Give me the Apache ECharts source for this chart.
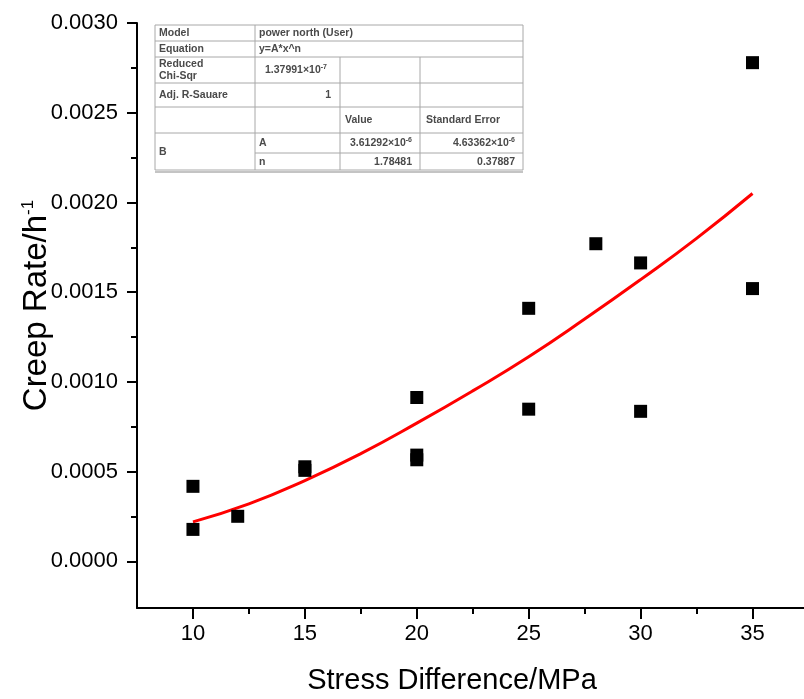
<!DOCTYPE html>
<html>
<head>
<meta charset="utf-8">
<script src="https://cdn.jsdelivr.net/npm/echarts@6/dist/echarts.min.js"></script>
<style>
  html, body { margin: 0; padding: 0; background: #fff; }
  #chart { width: 804px; height: 699px; }
</style>
</head>
<body>
<div id="chart"></div>
<script>
// measured points (stress difference in MPa, creep rate in 1/h)
const stress = [10, 10, 12, 15, 15, 20, 20, 20, 25, 25, 28, 30, 30, 35, 35];
const creepRate = [0.000418, 0.000178, 0.000251, 0.000527, 0.000507, 0.000913, 0.000592, 0.000566,
    0.00141, 0.000848, 0.00177, 0.001663, 0.000836, 0.002779, 0.00152];

// red fitted curve
const fitX = [10, 12.5, 15, 17.5, 20, 22.5, 25, 27.5, 30, 32.5, 35];
const fitY = [0.00022, 0.00032, 0.00045, 0.0006, 0.00077, 0.00095, 0.00114, 0.00135, 0.00157, 0.0018, 0.00205];

const xTicks = [10, 15, 20, 25, 30, 35];
const xMinorTicks = [12.5, 17.5, 22.5, 27.5, 32.5];
const yTicks = [0, 0.0005, 0.001, 0.0015, 0.002, 0.0025, 0.003];
const yMinorTicks = [0.00025, 0.00075, 0.00125, 0.00175, 0.00225, 0.00275];

const font = 'Arial, "Liberation Sans", sans-serif';
const tableColor = '#4a4a4a';
const lineColor = '#a8a8a8';

// fit-report table, columns and rows edges
const colX = [155, 255, 340, 420, 523];
const rowY = [25, 41, 57, 83, 107, 133, 153, 170];

function hLine(y, x1, x2) {
    return { type: 'line', shape: { x1: x1, y1: y, x2: x2, y2: y }, style: { stroke: lineColor, lineWidth: 1 } };
}
function vLine(x, y1, y2) {
    return { type: 'line', shape: { x1: x, y1: y1, x2: x, y2: y2 }, style: { stroke: lineColor, lineWidth: 1 } };
}
function cellText(text, x, y, align) {
    return {
        type: 'text',
        x: x,
        y: y,
        style: {
            text: text,
            fill: tableColor,
            font: 'bold 10.5px ' + font,
            align: align || 'left',
            verticalAlign: 'middle',
            rich: {
                s: { fontSize: 7, fontWeight: 'bold', fill: tableColor, verticalAlign: 'top', padding: [0, 0, 5, 0] }
            }
        }
    };
}

const tableElements = [
    { type: 'rect', shape: { x: colX[0], y: rowY[0], width: colX[4] - colX[0], height: rowY[7] - rowY[0] },
      style: { fill: '#fff', stroke: lineColor, lineWidth: 1 } },
    { type: 'line', shape: { x1: colX[0], y1: rowY[7] + 2, x2: colX[4], y2: rowY[7] + 2 },
      style: { stroke: '#c4c4c4', lineWidth: 2 } },
    hLine(rowY[1], colX[0], colX[4]),
    hLine(rowY[2], colX[0], colX[4]),
    hLine(rowY[3], colX[0], colX[4]),
    hLine(rowY[4], colX[0], colX[4]),
    hLine(rowY[5], colX[0], colX[4]),
    hLine(rowY[6], colX[1], colX[4]),
    vLine(colX[1], rowY[0], rowY[7]),
    vLine(colX[2], rowY[2], rowY[7]),
    vLine(colX[3], rowY[2], rowY[7]),
    cellText('Model', 159, 33),
    cellText('power north (User)', 259, 33),
    cellText('Equation', 159, 49),
    cellText('y=A*x^n', 259, 49),
    cellText('Reduced', 159, 64),
    cellText('Chi-Sqr', 159, 76),
    cellText('1.37991×10{s|-7}', 265, 70),
    cellText('Adj. R-Sauare', 159, 95),
    cellText('1', 331, 95, 'right'),
    cellText('Value', 345, 120),
    cellText('Standard Error', 426, 120),
    cellText('B', 159, 152),
    cellText('A', 259, 143),
    cellText('3.61292×10{s|-6}', 412, 143, 'right'),
    cellText('4.63362×10{s|-6}', 515, 143, 'right'),
    cellText('n', 259, 162),
    cellText('1.78481', 412, 162, 'right'),
    cellText('0.37887', 515, 162, 'right')
];

const axisLineStyle = { color: '#000', width: 2 };

const option = {
    animation: false,
    backgroundColor: '#fff',
    grid: { left: 137, top: 23, right: 0, bottom: 91, containLabel: false, outerBoundsMode: 'none' },
    xAxis: [
        {
            type: 'value',
            min: 7.5,
            max: 37.3,
            name: 'Stress Difference/MPa',
            nameLocation: 'middle',
            nameGap: 58,
            nameTextStyle: { color: '#000', fontSize: 29, fontFamily: font, padding: [0, 37, 0, 0] },
            axisLine: { onZero: false, lineStyle: axisLineStyle },
            axisTick: { inside: false, length: 11, lineStyle: { color: '#000', width: 2 }, customValues: xTicks },
            axisLabel: { color: '#000', fontSize: 22, fontFamily: font, margin: 15, customValues: xTicks },
            splitLine: { show: false }
        },
        {
            type: 'value',
            min: 7.5,
            max: 37.3,
            position: 'bottom',
            axisLine: { show: false, onZero: false },
            axisTick: { length: 6, lineStyle: { color: '#000', width: 2 }, customValues: xMinorTicks },
            axisLabel: { show: false },
            splitLine: { show: false }
        }
    ],
    yAxis: [
        {
            type: 'value',
            min: -0.00026,
            max: 0.003,
            name: '{a|Creep Rate/h}{s|-1}',
            nameLocation: 'middle',
            nameGap: 84,
            nameMoveOverlap: false,
            nameTextStyle: {
                color: '#000',
                fontFamily: font,
                padding: [0, 0, 0, 20],
                rich: {
                    a: { fontSize: 33, fontFamily: font, color: '#000' },
                    s: { fontSize: 17, fontFamily: font, color: '#000', verticalAlign: 'top', padding: [0, 0, 13, 0] }
                }
            },
            axisLine: { onZero: false, lineStyle: axisLineStyle },
            axisTick: { length: 10, lineStyle: { color: '#000', width: 2 }, customValues: yTicks },
            axisLabel: {
                color: '#000', fontSize: 22, fontFamily: font, margin: 19, customValues: yTicks,
                formatter: (v) => v.toFixed(4)
            },
            splitLine: { show: false }
        },
        {
            type: 'value',
            min: -0.00026,
            max: 0.003,
            position: 'left',
            axisLine: { show: false, onZero: false },
            axisTick: { length: 6, lineStyle: { color: '#000', width: 2 }, customValues: yMinorTicks },
            axisLabel: { show: false },
            splitLine: { show: false }
        }
    ],
    series: [
        {
            name: 'Fit',
            type: 'line',
            xAxisIndex: 0,
            yAxisIndex: 0,
            smooth: true,
            symbol: 'none',
            lineStyle: { color: '#ff0000', width: 3 },
            data: fitX.map((x, i) => [x, fitY[i]]),
            z: 2
        },
        {
            name: 'Creep rate',
            type: 'scatter',
            xAxisIndex: 0,
            yAxisIndex: 0,
            symbol: 'rect',
            symbolSize: 13,
            itemStyle: { color: '#000', opacity: 1 },
            data: stress.map((x, i) => [x, creepRate[i]]),
            z: 3
        }
    ],
    graphic: [
        { type: 'group', z: 10, children: tableElements }
    ]
};

const chart = echarts.init(document.getElementById('chart'));
chart.setOption(option);
</script>
</body>
</html>
